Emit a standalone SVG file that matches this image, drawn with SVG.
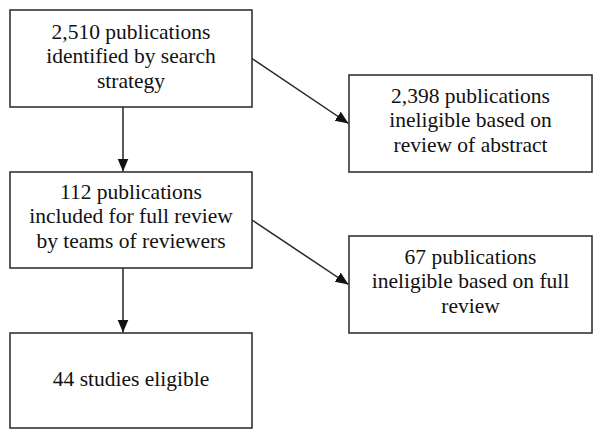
<svg xmlns="http://www.w3.org/2000/svg" width="600" height="439" viewBox="0 0 600 439">
<style>
.box{fill:#fff;stroke:#333;stroke-width:1.6}
text{font-family:"Liberation Serif","Times New Roman",serif;font-size:21.5px;fill:#111;text-anchor:middle}
.c{stroke:#222;stroke-width:1.5;fill:none;marker-end:url(#ah)}
</style>
<defs>
<marker id="ah" markerUnits="userSpaceOnUse" markerWidth="14" markerHeight="12" refX="13" refY="5.5" orient="auto">
<path d="M0,0 L13,5.5 L0,11 Z" fill="#111"/>
</marker>
</defs>
<rect width="600" height="439" fill="#fff"/>
<g id="connectors">
<line class="c" x1="123" y1="107" x2="123" y2="171.5"/>
<line class="c" x1="123" y1="268" x2="123" y2="332.5"/>
<line class="c" x1="252" y1="58.5" x2="348.5" y2="123.5"/>
<line class="c" x1="252" y1="220" x2="348.5" y2="284.5"/>
</g>
<g id="n1">
<rect class="box" x="10" y="10" width="242" height="97"/>
<text x="131" y="38.5">2,510 publications</text>
<text x="131" y="63">identified by search</text>
<text x="131" y="87.5">strategy</text>
</g>
<g id="n2">
<rect class="box" x="349" y="75" width="243" height="97"/>
<text x="470.5" y="102.5">2,398 publications</text>
<text x="470.5" y="127">ineligible based on</text>
<text x="470.5" y="151.5">review of abstract</text>
</g>
<g id="n3">
<rect class="box" x="10" y="172" width="242" height="96"/>
<text x="131" y="198.5">112 publications</text>
<text x="131" y="223">included for full review</text>
<text x="131" y="247.5">by teams of reviewers</text>
</g>
<g id="n4">
<rect class="box" x="349" y="236" width="243" height="97"/>
<text x="470.5" y="264">67 publications</text>
<text x="470.5" y="288">ineligible based on full</text>
<text x="470.5" y="312.5">review</text>
</g>
<g id="n5">
<rect class="box" x="10" y="333" width="242" height="95"/>
<text x="131" y="385.5">44 studies eligible</text>
</g>
</svg>
